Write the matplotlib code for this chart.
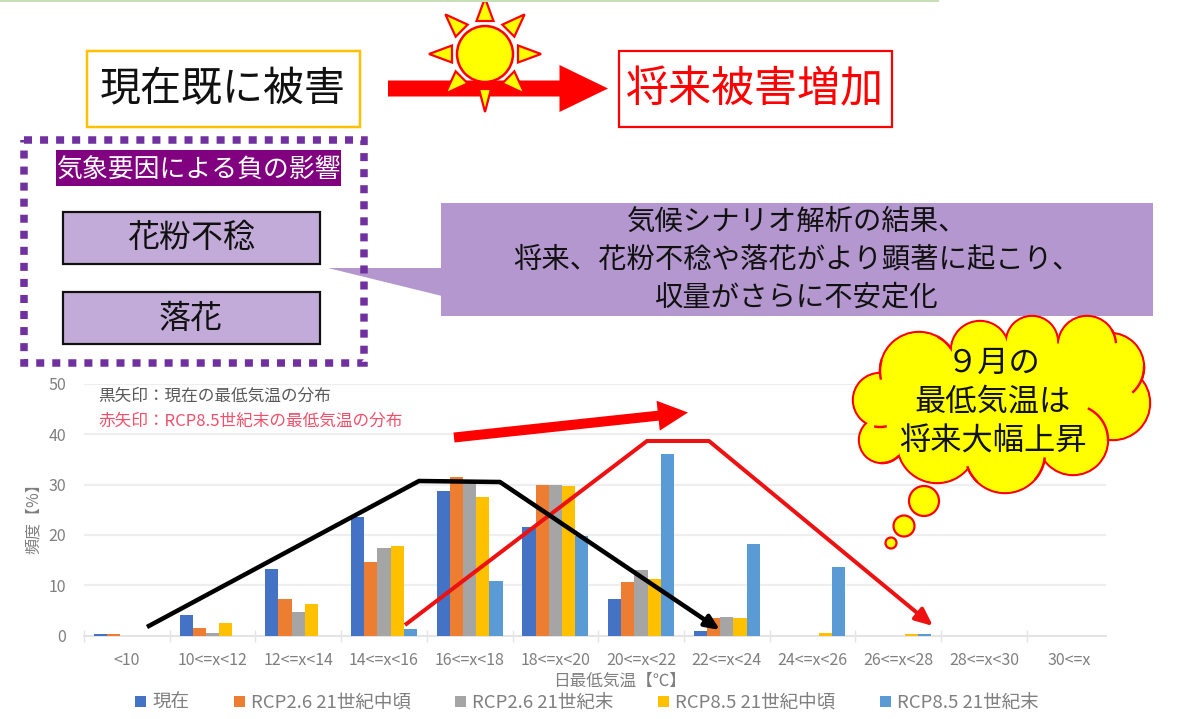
import numpy as np
import matplotlib
matplotlib.use('Agg')
import matplotlib.pyplot as plt
from matplotlib.patches import Rectangle, Polygon, Circle, Ellipse, FancyArrow

plt.rcParams['font.family'] = ['Noto Sans CJK JP', 'DejaVu Sans']

# chart data
categories = ['<10', '10<=x<12', '12<=x<14', '14<=x<16', '16<=x<18', '18<=x<20',
              '20<=x<22', '22<=x<24', '24<=x<26', '26<=x<28', '28<=x<30', '30<=x']
series_names = ['現在', 'RCP2.6 21世紀中頃', 'RCP2.6 21世紀末', 'RCP8.5 21世紀中頃', 'RCP8.5 21世紀末']
genzai = [0.3, 4.1, 13.2, 23.6, 28.8, 21.5, 7.2, 1.0, 0, 0, 0, 0]
rcp26_mid = [0.4, 1.6, 7.2, 14.7, 31.5, 30.0, 10.6, 3.6, 0, 0, 0, 0]
rcp26_end = [0, 0.5, 4.8, 17.4, 30.3, 30.0, 13.0, 3.7, 0, 0, 0, 0]
rcp85_mid = [0, 2.6, 6.2, 17.7, 27.6, 29.8, 11.3, 3.5, 0.5, 0.3, 0, 0]
rcp85_end = [0, 0, 0, 1.3, 10.8, 19.8, 36.0, 18.1, 13.6, 0.3, 0, 0]
series_colors = ['#4472c4', '#ed7d31', '#a5a5a5', '#ffc000', '#5b9bd5']

W, H = 1201, 719
PX = 0.72  # 1px in points at dpi 100
GRAY = '#7f7f7f'

fig = plt.figure(figsize=(W / 100, H / 100), dpi=100)

# bar chart
ax = fig.add_axes([84 / W, 1 - 635.7 / H, 1022 / W, 252 / H])
x = np.arange(len(categories))
bw = 0.154
all_series = [genzai, rcp26_mid, rcp26_end, rcp85_mid, rcp85_end]
handles = []
for i, vals in enumerate(all_series):
    b = ax.bar(x + (i - 2) * bw, vals, bw, color=series_colors[i], label=series_names[i], zorder=3)
    handles.append(b)

ax.set_xlim(-0.5, 11.425)
ax.set_ylim(0, 50)
ax.set_yticks([0, 10, 20, 30, 40, 50])
ax.set_xticks(x)
ax.set_xticklabels(categories)
ax.set_xticks(np.arange(-0.5, 11, 1), minor=True)
ax.tick_params(axis='x', which='major', length=0, labelsize=11.5, labelcolor=GRAY, pad=11.5)
ax.tick_params(axis='x', which='minor', length=8, direction='inout', color='#e4e4e4', width=1)
ax.tick_params(axis='y', length=0, labelsize=11.5, labelcolor=GRAY, pad=13)
ax.grid(axis='y', color='#eeeeee', lw=2.2 * PX, zorder=0)
ax.set_axisbelow(True)
for s in ['top', 'left', 'right']:
    ax.spines[s].set_visible(False)
ax.spines['bottom'].set_color('#e4e4e4')
ax.spines['bottom'].set_linewidth(2 * PX)

ax.set_xlabel('日最低気温【℃】', fontsize=12, color=GRAY, va='center', ha='left')
ax.xaxis.set_label_coords(0.4585, -0.18)
ax.set_ylabel('頻度【%】', fontsize=11.5, color=GRAY, va='center')
ax.yaxis.set_label_coords(-0.05, 0.479)

fig.legend(handles=handles, labels=series_names, ncol=5, frameon=False, fontsize=13.35,
           labelcolor=GRAY, loc='center', bbox_to_anchor=(587 / W, 1 - 703 / H),
           handlelength=0.6, handleheight=0.6, handletextpad=0.32, columnspacing=2.4,
           borderpad=0, borderaxespad=0)

# overlay in picture pixels for the slide shapes
ov = fig.add_axes([0, 0, 1, 1], zorder=5)
ov.set_xlim(0, W)
ov.set_ylim(H, 0)
ov.axis('off')
ov.patch.set_alpha(0)

ov.plot([0, 938], [0.8, 0.8], color='#c5e0b4', lw=2 * PX)


def box(x0, y0, x1, y1, fc, ec, lw=2.0, **kw):
    r = Rectangle((x0, y0), x1 - x0, y1 - y0, fc=fc, ec=ec, lw=lw * PX, **kw)
    ov.add_patch(r)
    return r


# top row
box(87, 51, 360, 127, 'white', '#ffc000', 2.5)
ov.text(223, 90, '現在既に被害', fontsize=29.5, ha='center', va='center', color='#111111')
box(619, 51, 892, 127, 'white', '#ff0000', 2.2)
ov.text(755, 90, '将来被害増加', fontsize=31, ha='center', va='center', color='#ff0000')
ov.add_patch(FancyArrow(388, 88.5, 220, 0, width=16, head_width=47, head_length=48.5,
                        length_includes_head=True, fc='#ff0000', ec='none'))

# sun
sx, sy = 485, 54
for ang in range(0, 360, 45):
    a = np.deg2rad(ang)
    ux, uy = np.cos(a), np.sin(a)
    r_in, r_out, hw = 33, 56, 8.5
    if ang == 90:
        r_in, r_out, hw = 35, 58, 6
    pts = [(sx + ux * r_out, sy + uy * r_out),
           (sx + ux * r_in - uy * hw, sy + uy * r_in + ux * hw),
           (sx + ux * r_in + uy * hw, sy + uy * r_in - ux * hw)]
    ov.add_patch(Polygon(pts, closed=True, fc='#ffff00', ec='#ff0000', lw=2.2 * PX, joinstyle='miter'))
ov.add_patch(Ellipse((sx, sy), 56, 56, fc='#ffff00', ec='#ff0000', lw=2.5 * PX))

# callout
box(441, 203, 1153, 316, '#b397ce', 'none', 0)
ov.add_patch(Polygon([(442, 268), (328, 268), (442, 296)], closed=True, fc='#b397ce', ec='none'))
callout_lines = ['気候シナリオ解析の結果、', '将来、花粉不稔や落花がより顕著に起こり、', '収量がさらに不安定化']
for yy, line in zip([222, 260, 297], callout_lines):
    ov.text(797, yy, line, fontsize=20.4, ha='center', va='center', color='#111111')

# dotted frame
box(24, 140, 364, 363, 'none', '#7030a0', 7.5, ls=(0, (1.07, 1.07)))
box(56, 150, 341, 186, '#800080', 'none', 0)
ov.text(198, 169, '気象要因による負の影響', fontsize=18.6, ha='center', va='center', color='white')
box(63, 212, 320, 264, '#c3abd9', '#111111', 2.2)
ov.text(191, 238, '花粉不稔', fontsize=23, ha='center', va='center', color='#111111')
box(63, 292, 320, 344, '#c3abd9', '#111111', 2.2)
ov.text(191, 319, '落花', fontsize=23, ha='center', va='center', color='#111111')

# notes on the chart
ov.text(98, 396, '黒矢印：現在の最低気温の分布', fontsize=12, ha='left', va='center', color='#595959')
ov.text(98, 421, '赤矢印：RCP8.5世紀末の最低気温の分布', fontsize=12, ha='left', va='center', color='#f0506a')

# arrows on the chart
ov.add_patch(FancyArrow(454, 437.5, 234, -25, width=10, head_width=30, head_length=30,
                        length_includes_head=True, fc='#ff0000', ec='none'))


def bent_arrow(xs, ys, color, lw, head):
    ov.plot(xs[:-1], ys[:-1], color=color, lw=lw * PX, solid_joinstyle='miter', solid_capstyle='butt')
    ov.annotate('', xy=(xs[-1], ys[-1]), xytext=(xs[-2], ys[-2]),
                arrowprops=dict(arrowstyle='-|>,head_length=0.95,head_width=0.42', color=color, lw=lw * PX,
                                shrinkA=0, shrinkB=0, mutation_scale=head))


bent_arrow([147, 419, 500, 720], [627, 481, 482, 630], '#000000', 4.5, 9)
bent_arrow([405, 647, 709, 933], [625, 441, 441, 626], '#ee1111', 4, 11)

# thought cloud, lobes given as (x, y, r) in px
lobes = [(919, 371, 39), (980, 350, 29), (1032, 342, 26), (1087, 345, 29), (1110, 367, 34),
         (1113, 403, 37), (1073, 440, 35), (1005, 453, 40), (937, 443, 40), (882, 440, 23), (880, 400, 27)]
stubs = [(1073, 440, 35, -63, 0), (1110, 367, 34, 0, 47), (919, 371, 39, -60, -37),
         (1087, 345, 29, -30, -6), (880, 400, 27, 100, 78), (919, 371, 39, 169, 195),
         (882, 440, 23, 90, 47), (1005, 453, 40, 135, 159), (1005, 453, 40, 40, 8)]
for cx, cy, r in lobes:
    ov.add_patch(Circle((cx, cy), r, fc='#ffff00', ec='#ff0000', lw=2.4 * PX))
for cx, cy, r in lobes:
    ov.add_patch(Circle((cx, cy), r - 0.9, fc='#ffff00', ec='none'))
ov.add_patch(Polygon([(cx, cy) for cx, cy, r in lobes], closed=True, fc='#ffff00', ec='none'))
for cx, cy, r, a0, a1 in stubs:
    t = np.deg2rad(np.linspace(a0, a1, 20))
    ov.plot(cx + r * np.cos(t), cy + r * np.sin(t), color='#ff0000', lw=2.4 * PX)
for cx, cy, r in [(924, 501, 15), (904, 526, 10.5), (891, 543, 5.5)]:
    ov.add_patch(Circle((cx, cy), r, fc='#ffff00', ec='#ff0000', lw=2.2 * PX))
cloud_lines = ['９月の', '最低気温は', '将来大幅上昇']
for yy, line in zip([363, 402, 442], cloud_lines):
    ov.text(993, yy, line, fontsize=22.5, ha='center', va='center', color='#111111')

fig.savefig('out.png', dpi=100)
